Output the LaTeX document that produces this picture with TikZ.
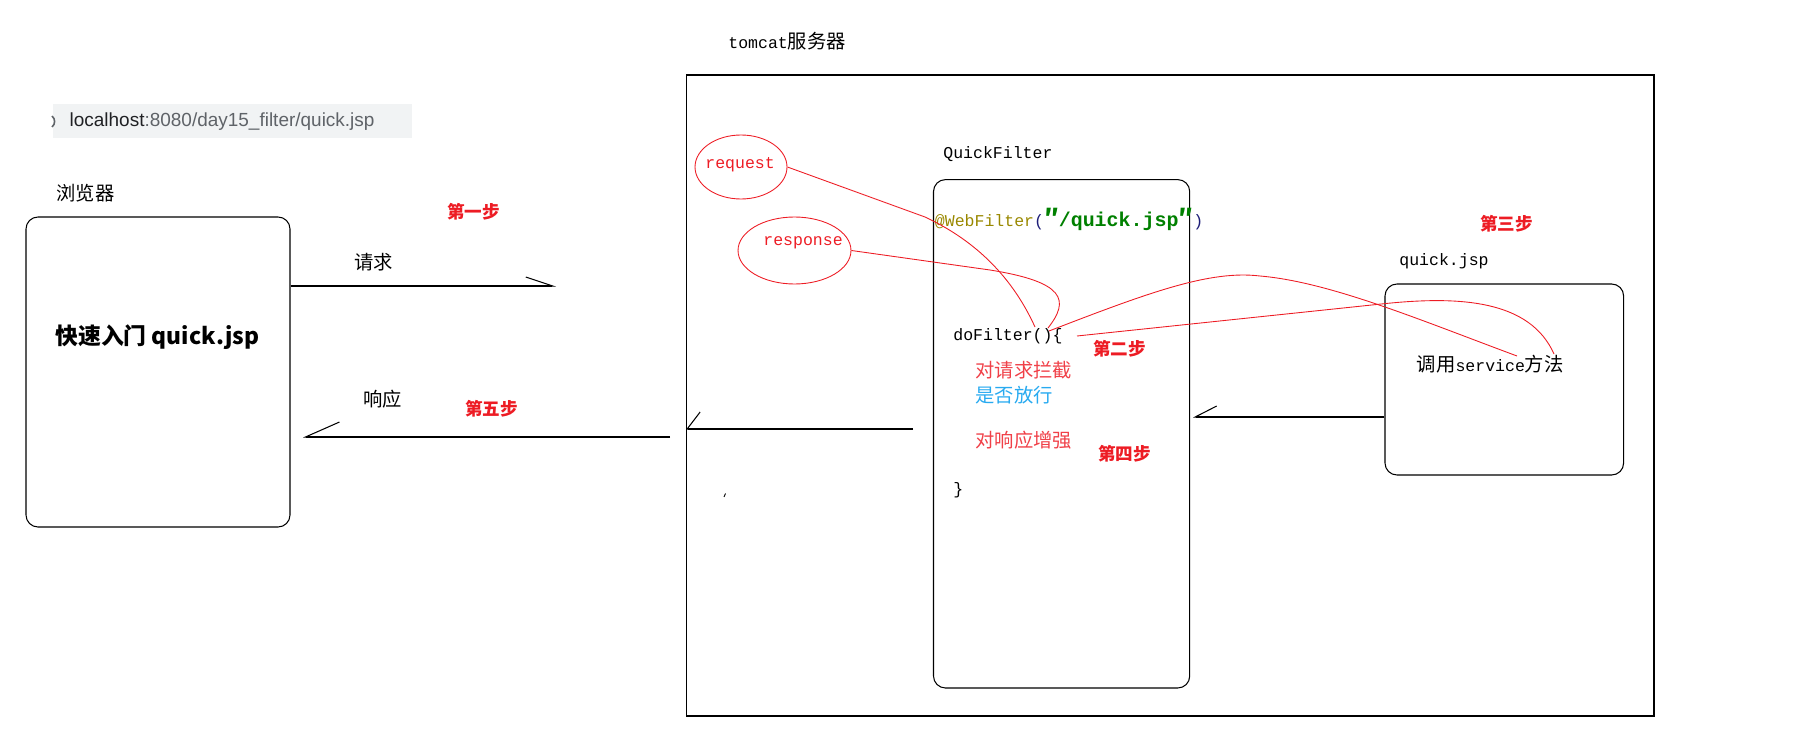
\documentclass[tikz,border=0pt]{standalone}
\usepackage{fontspec}
\setmainfont{Noto Sans CJK SC}
\setmonofont{Liberation Mono}[Scale=0.855]
\newfontfamily\urlfont{Liberation Sans}
\usepackage{tikz}
\usetikzlibrary{arrows.meta, positioning, shapes.geometric, fit}

\definecolor{paintred}{RGB}{237,28,36}
\definecolor{annored}{RGB}{240,64,72}
\definecolor{annoblue}{RGB}{40,170,240}
\definecolor{anoolive}{RGB}{153,136,0}
\definecolor{parnavy}{RGB}{30,30,120}
\definecolor{strgreen}{RGB}{0,128,0}
\definecolor{urlbg}{RGB}{241,243,244}
\definecolor{urlgray}{RGB}{95,99,104}
\definecolor{urldark}{RGB}{32,33,36}

\begin{document}
\begin{tikzpicture}[x=0.02cm, y=-0.02cm,
    % Styles
    frame/.style={draw, line width=0.6pt, inner sep=0},
    rounded frame/.style={frame, rounded corners=6.8pt},
    oval/.style={ellipse, draw=paintred, line width=0.5pt, inner sep=0},
    cn label/.style={font=\fontsize{11}{13}\selectfont, inner sep=0, anchor=west},
    code label/.style={font=\fontsize{11}{13}\selectfont\ttfamily, inner sep=0, anchor=west},
    step label/.style={font=\fontsize{10}{12}\selectfont\bfseries, text=paintred, inner sep=0, anchor=west},
    red link/.style={paintred, line width=0.5pt},
    flow/.style={line width=0.6pt},
]
    \useasboundingbox (0,0) rectangle (1805,743);

    % Address bar of the browser
    \node[fill=urlbg, inner sep=0, fit={(52.7,104.3) (411.7,138.3)}] (url bar) {};
    \draw[urlgray, line width=0.9pt] (52,116) .. controls (55.5,119) and (55.5,124) .. (52,127);
    \node[inner sep=0, anchor=west, font=\urlfont\fontsize{10.8}{13}\selectfont, text=urlgray] (url) at (69.3,121.5)
        {\textcolor{urldark}{localhost}:8080/day15\_filter/quick.jsp};

    % Browser
    \node[cn label] (browser label) at (56,193) {浏览器};
    \node[rounded frame, fit={(26,217) (290,527)}] (browser) {};
    \node[cn label, font=\fontsize{13}{16}\selectfont\bfseries] (page) at (55,337) {快速入门 quick.jsp};

    % Server frame
    \node[cn label] (tomcat label) at (728,41) {\texttt{tomcat}服务器};
    \node[frame, fit={(686.6,75) (1654,716)}] (tomcat) {};

    % Request and response objects
    \node[oval, minimum width=1.84cm, minimum height=1.28cm] (request) at (741,167) {};
    \node[code label, text=paintred] at (705,165) {request};
    \node[oval, minimum width=2.26cm, minimum height=1.34cm] (response) at (794.5,250.5) {};
    \node[code label, text=paintred] at (763,243) {response};

    % Filter
    \node[code label] (filter label) at (943,154) {QuickFilter};
    \node[rounded frame, fit={(933.5,179.6) (1189.7,688)}] (filter) {};
    \node[code label] (annotation) at (934.6,219)
        {\textcolor{anoolive}{@WebFilter}\textcolor{parnavy}{(}\textcolor{strgreen}{\fontsize{13.3}{15}\selectfont\bfseries\textrm{″}/quick.jsp\textrm{″}}\textcolor{parnavy}{)}};
    \node[code label] (dofilter) at (953,336) {doFilter()\{};
    \node[cn label, text=annored] (intercept) at (975,370) {对请求拦截};
    \node[cn label, text=annoblue] (pass) at (975,395.5) {是否放行};
    \node[cn label, text=annored] (enhance) at (975,440.5) {对响应增强};
    \node[code label] (close) at (953,490) {\}};

    % Target page
    \node[code label] (jsp label) at (1399,261) {quick.jsp};
    \node[rounded frame, fit={(1385,284) (1623.6,475)}] (jsp) {};
    \node[cn label] (service) at (1416.5,364) {调用\texttt{service}方法};

    % Step marks
    \node[step label] (step1) at (447,212) {第一步};
    \node[step label] (step2) at (1093,349) {第二步};
    \node[step label] (step3) at (1480,224) {第三步};
    \node[step label] (step4) at (1098,454) {第四步};
    \node[step label] (step5) at (465,409) {第五步};

    % Request / response labels
    \node[cn label] (req label) at (354,262) {请求};
    \node[cn label] (resp label) at (363,399) {响应};

    % Free ends of the connectors
    \coordinate (req end) at (556,286);
    \coordinate (resp start) at (670,437);
    \coordinate (resp end) at (303,437);
    \coordinate (back start) at (913,429);
    \coordinate (svc end) at (1193,417);
    \coordinate (df a) at (1035,327);
    \coordinate (df b) at (1048,328);
    \coordinate (df c) at (1049,331);
    \coordinate (df d) at (1077,336);
    \coordinate (svc c) at (1517,356);
    \coordinate (svc d) at (1554,354);

    % Black flow lines with half arrow heads
    \draw[flow, -{Straight Barb[harpoon, length=5.4mm, width=3.6mm]}] (req end -| browser.east) -- (req end);
    \draw[flow, -{Straight Barb[harpoon, swap, length=6.8mm, width=6mm]}] (resp start) -- (resp end);
    \draw[flow, -{Straight Barb[harpoon, swap, length=2.6mm, width=6.8mm]}] (back start) -- (back start -| tomcat.west);
    \draw[flow, -{Straight Barb[harpoon, swap, length=4.3mm, width=4.4mm]}] (svc end -| jsp.west) -- (svc end);
    \draw[line width=0.5pt] (724,497) -- (725.5,493.5);

    % Red hand drawn links
    \draw[red link] (request.east) -- (925,217) .. controls (970,238) and (1010,272) .. (df a);
    \draw[red link] (response.east) -- (990,270) .. controls (1065,282) and (1070,300) .. (df b);
    \draw[red link] (df c) .. controls (1150,292) and (1210,270) .. (1260,276)
        .. controls (1330,282) and (1420,320) .. (svc c);
    \draw[red link] (df d) -- (1386,303.5) .. controls (1460,296) and (1530,300) .. (svc d);
\end{tikzpicture}
\end{document}
